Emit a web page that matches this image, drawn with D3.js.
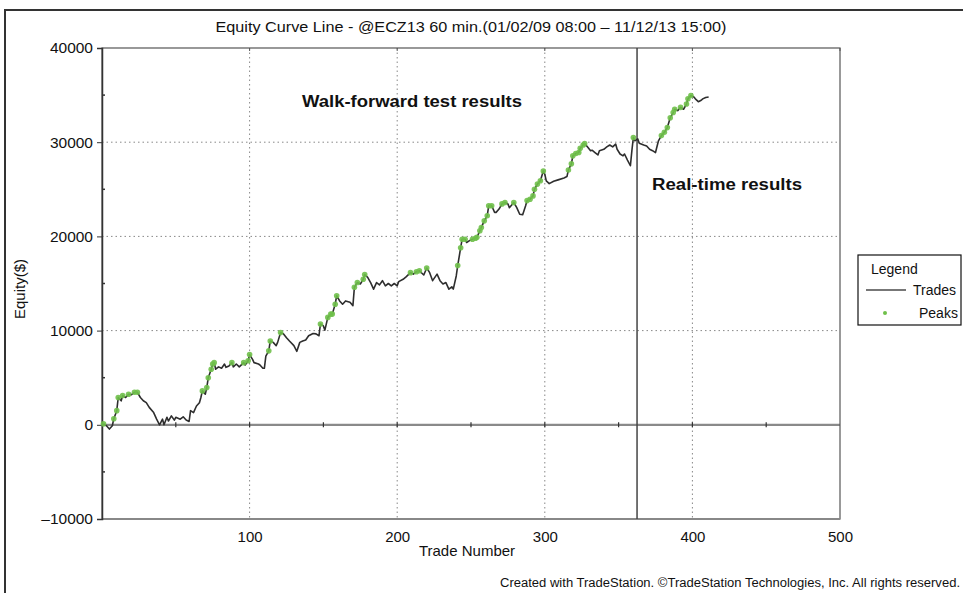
<!DOCTYPE html>
<html><head><meta charset="utf-8">
<script src="https://cdn.jsdelivr.net/npm/d3@7"></script>
<style>
html,body{margin:0;padding:0;background:#fff;}
svg{display:block;font-family:"Liberation Sans",Arial,sans-serif;}
</style></head>
<body>
<svg id="chart" width="963" height="593"></svg>
<script>
// ---- data ----
const tradeNums = [1,3,5,7,8,10,11,13,14,16,18,20,22,24,26,28,30,32,35,37,39,41,42,44,45,47,49,50,53,55,57,59,60,62,64,66,67,68,70,71,72,74,75,76,77,79,81,83,84,86,88,89,91,93,96,97,99,100,102,103,106,
107,109,110,111,113,114,116,118,119,121,123,125,127,130,132,134,136,138,140,143,145,147,148,150,151,153,155,156,158,159,161,163,165,168,170,171,173,175,177,178,180,182,184,186,188,190,192,194,196,198,200,201,
204,206,209,211,213,215,218,220,222,224,227,229,231,233,235,237,238,240,241,243,244,246,247,249,251,253,254,256,257,259,261,262,264,266,267,269,271,273,275,276,279,281,283,285,287,288,290,292,293,295,297,
299,300,301,303,306,309,313,315,316,318,319,321,323,324,326,327,329,331,332,334,336,337,340,342,344,346,348,349,351,353,354,356,358,359,360,361,363,364,367,369,371,373,375,377,379,381,383,385,387,388,390,392,394,396,397,399,401,402,404,406,407,409,411];
const equity = [100,-100,-450,-100,650,1500,2900,2550,3100,2900,3250,3200,3450,3450,2900,2550,2350,1850,1300,600,0,600,0,800,400,950,500,800,600,850,500,350,1500,1300,2000,2350,2900,3600,3250,3950,5000,5900,6450,6600,5900,6150,6000,6450,6100,6250,6600,6150,6450,6150,6600,6350,6800,7450,6950,6600,6450,
6350,6000,6000,7300,7850,8900,8750,8400,8750,9800,9650,9250,8900,8400,7800,8750,8900,9000,9450,9700,9650,9450,10700,10500,10050,11400,11750,11750,12800,13700,13150,12800,13150,13000,12650,14600,15100,14950,15450,15950,15650,15100,14400,15100,14850,15300,14750,15000,14750,15000,14750,15200,
15450,15700,16150,16000,16250,16350,15900,16650,16150,15300,16000,15300,14950,15100,14400,14650,14400,15800,16900,18800,19700,19700,19350,19550,19700,19800,19900,20600,20950,21650,22200,23250,23250,22550,22550,22900,23450,23600,23450,23050,23600,23050,22350,22300,23250,23800,23950,24300,25000,25550,25900,
26950,26600,25900,25600,25850,26000,26200,26350,27050,27700,28550,28800,28900,29350,29700,29850,29500,29100,29150,28900,28650,29100,29250,29500,29700,29500,29800,29250,28750,28550,28750,28100,27500,29100,30500,30150,30350,29900,29700,29600,29250,29100,28900,30150,30700,31050,31550,32600,33150,33500,33350,33700,33500,34050,34600,34950,34800,34600,34300,34450,34600,34750,34800];
const yTicks = [-10000, 0, 10000, 20000, 30000, 40000];
const yMinorTicks = [-5000, 5000, 15000, 25000, 35000];
const xTicks = [100, 200, 300, 400, 500];
const xMinorTicks = [50, 100, 150, 200, 250, 300, 350, 400, 450];
const yGrid = [10000, 20000, 30000];
const xGrid = [100, 200, 300, 400];
const splitTrade = 362.5;
const titleText = "Equity Curve Line - @ECZ13 60 min.(01/02/09 08:00 \u2013 11/12/13 15:00)";

// ---- build ----
const svg = d3.select("#chart");
const L = 102, R = 840, T = 48, B = 519;
const x = d3.scaleLinear().domain([0, 500]).range([L, R]);
const y = d3.scaleLinear().domain([-10000, 40000]).range([B, T]);

const pts = tradeNums.map((t, i) => ({t, v: equity[i]}));
let runMax = -Infinity;
const peaks = pts.filter(p => { if (p.v >= runMax) { runMax = p.v; return true; } return false; });

// outer frame
svg.append("path").attr("d", "M5,593 L5,10 L963,10").attr("fill", "none")
  .attr("stroke", "#333").attr("stroke-width", 2);

// title
svg.append("text").attr("x", 471).attr("y", 32).attr("text-anchor", "middle")
  .attr("font-size", 15).attr("textLength", 511).attr("lengthAdjust", "spacingAndGlyphs")
  .attr("fill", "#111").text(titleText);

// grid
const g = svg.append("g");
g.selectAll(".yg").data(yGrid).join("line")
  .attr("x1", L).attr("x2", R).attr("y1", d => y(d)).attr("y2", d => y(d))
  .attr("stroke", "#888").attr("stroke-width", 1).attr("stroke-dasharray", "1.5,3");
g.selectAll(".xg").data(xGrid).join("line")
  .attr("y1", T).attr("y2", B).attr("x1", d => x(d)).attr("x2", d => x(d))
  .attr("stroke", "#888").attr("stroke-width", 1).attr("stroke-dasharray", "1.5,3");

// zero line
svg.append("line").attr("x1", L).attr("x2", R).attr("y1", y(0)).attr("y2", y(0))
  .attr("stroke", "#8a8a8a").attr("stroke-width", 2.2);
svg.selectAll(".zt").data(xMinorTicks).join("line")
  .attr("x1", d => x(d)).attr("x2", d => x(d)).attr("y1", y(0) - 2.5).attr("y2", y(0) + 2.5)
  .attr("stroke", "#333").attr("stroke-width", 1.2);

// plot box
svg.append("rect").attr("x", L).attr("y", T).attr("width", R - L).attr("height", B - T)
  .attr("fill", "none").attr("stroke", "#555").attr("stroke-width", 1.2);
svg.append("line").attr("x1", L).attr("x2", R).attr("y1", B).attr("y2", B)
  .attr("stroke", "#888").attr("stroke-width", 2);

// y axis
const yAxis = d3.axisLeft(y).tickValues(yTicks).tickSize(5).tickPadding(4)
  .tickFormat(d => d < 0 ? "\u2013" + Math.abs(d) : String(d));
const ya = svg.append("g").attr("transform", `translate(${L},0)`).call(yAxis);
ya.select(".domain").attr("stroke", "#333").attr("stroke-width", 1.5);
ya.selectAll(".tick line").attr("stroke", "#333");
ya.selectAll(".tick text").attr("font-size", 15.5).attr("fill", "#111")
  .attr("font-family", "'Liberation Sans',Arial,sans-serif");
svg.selectAll(".ym").data(yMinorTicks).join("line")
  .attr("x1", L).attr("x2", L + 3).attr("y1", d => y(d)).attr("y2", d => y(d))
  .attr("stroke", "#333").attr("stroke-width", 1.5);

// x axis
const xAxis = d3.axisBottom(x).tickValues(xTicks).tickSize(0).tickPadding(12);
const xa = svg.append("g").attr("transform", `translate(0,${B})`).call(xAxis);
xa.select(".domain").remove();
xa.selectAll(".tick text").attr("font-size", 15).attr("fill", "#111")
  .attr("font-family", "'Liberation Sans',Arial,sans-serif");
svg.selectAll(".xm").data(xTicks).join("line")
  .attr("x1", d => x(d)).attr("x2", d => x(d)).attr("y1", T).attr("y2", T + 3)
  .attr("stroke", "#555");

// axis titles
svg.append("text").attr("x", 467).attr("y", 556).attr("text-anchor", "middle")
  .attr("font-size", 15).attr("fill", "#111").text("Trade Number");
svg.append("text").attr("transform", "translate(25,289) rotate(-90)").attr("text-anchor", "middle")
  .attr("font-size", 15).attr("fill", "#111").text("Equity($)");

// split line
svg.append("line").attr("x1", x(splitTrade)).attr("x2", x(splitTrade)).attr("y1", T).attr("y2", B)
  .attr("stroke", "#444").attr("stroke-width", 1.5);

// equity line
const line = d3.line().x(d => x(d.t)).y(d => y(d.v));
svg.append("path").datum(pts).attr("d", line).attr("fill", "none")
  .attr("stroke", "#2e2e2e").attr("stroke-width", 1.6).attr("stroke-linejoin", "round");

// peaks
svg.selectAll(".pk").data(peaks).join("circle")
  .attr("cx", d => x(d.t)).attr("cy", d => y(d.v)).attr("r", 2.8)
  .attr("fill", "#6fc04a").attr("opacity", 0.9);

// annotations
svg.append("text").attr("x", 302).attr("y", 107).attr("font-size", 16).attr("font-weight", "bold")
  .attr("textLength", 220).attr("lengthAdjust", "spacingAndGlyphs").attr("fill", "#111")
  .text("Walk-forward test results");
svg.append("text").attr("x", 652).attr("y", 190).attr("font-size", 16).attr("font-weight", "bold")
  .attr("textLength", 150).attr("lengthAdjust", "spacingAndGlyphs").attr("fill", "#111")
  .text("Real-time results");

// legend
const lg = svg.append("g");
lg.append("rect").attr("x", 858).attr("y", 255).attr("width", 103).attr("height", 70)
  .attr("fill", "#fff").attr("stroke", "#111").attr("stroke-width", 1.2);
lg.append("text").attr("x", 871).attr("y", 274).attr("font-size", 14).attr("fill", "#111").text("Legend");
lg.append("line").attr("x1", 866).attr("x2", 906).attr("y1", 290).attr("y2", 290)
  .attr("stroke", "#777").attr("stroke-width", 1.8);
lg.append("text").attr("x", 913).attr("y", 295).attr("font-size", 14).attr("fill", "#111").text("Trades");
lg.append("circle").attr("cx", 885).attr("cy", 313).attr("r", 2).attr("fill", "#6fc04a");
lg.append("text").attr("x", 919).attr("y", 318).attr("font-size", 14).attr("fill", "#111").text("Peaks");

// footer
svg.append("text").attr("x", 960).attr("y", 587).attr("text-anchor", "end").attr("font-size", 12.5)
  .attr("textLength", 460).attr("lengthAdjust", "spacingAndGlyphs").attr("fill", "#111")
  .text("Created with TradeStation. \u00A9TradeStation Technologies, Inc. All rights reserved.");
</script>
</body></html>
